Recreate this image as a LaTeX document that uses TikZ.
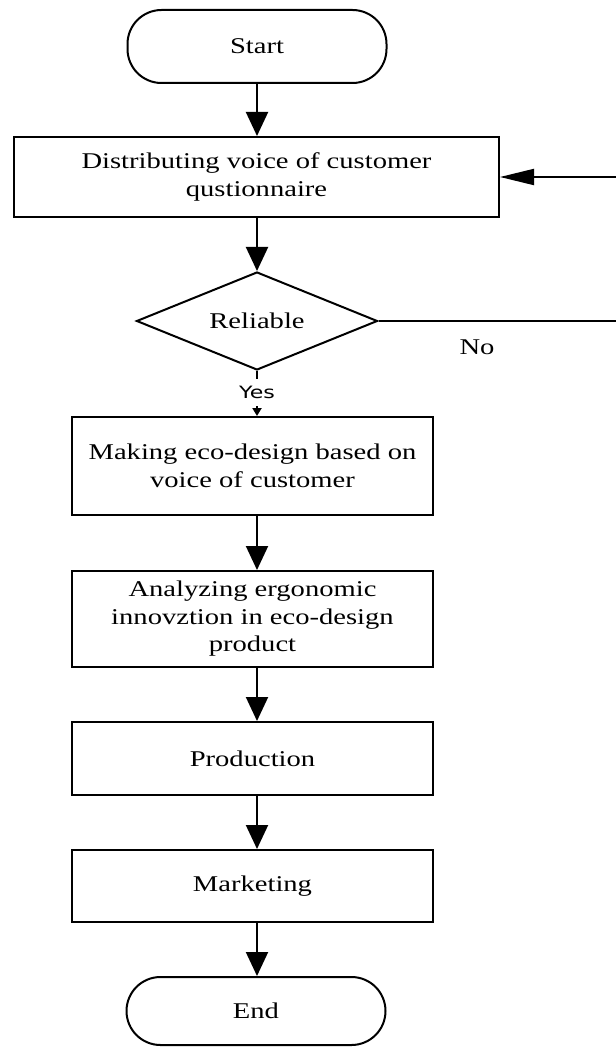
\documentclass[tikz,border=0pt]{standalone}
\usepackage{fontspec}
\setmainfont{Liberation Serif}[FakeStretch=1.27]
\newfontfamily\yesfont{DejaVu Sans}[FakeStretch=1.3]
\usetikzlibrary{shapes.geometric,arrows.meta}
\tikzset{
  base/.style={draw, line width=2pt, align=center, font=\fontsize{22.5}{27.5}\selectfont, inner sep=0pt},
  term/.style={base, rounded corners=34pt, minimum width=259pt},
  proc/.style={base, rectangle},
  decide/.style={base, diamond, aspect=2.46, minimum width=241pt, minimum height=98pt},
  conn/.style={line width=2pt, -{Triangle[length=24pt,width=22pt]}},
  back/.style={line width=2pt, -{Triangle[length=34pt,width=16pt]}},
  small/.style={line width=2pt, -{Triangle[length=8pt,width=9pt]}},
  plain/.style={line width=2pt},
  yeslbl/.style={fill=white, inner xsep=2pt, inner ysep=7.5pt, font=\yesfont\fontsize{17}{19}\selectfont},
  nolbl/.style={font=\fontsize{22.5}{26}\selectfont, inner sep=0pt}
}
\begin{document}
\begin{tikzpicture}[x=1pt,y=-1pt]
\useasboundingbox (0,0) rectangle (615,1048);
\coordinate (ax) at (257,0);
\node[term, minimum height=73pt] (start) at (257,46.5) {Start};
\node[proc, minimum width=485pt, minimum height=80pt] (b1) at (256.5,177) {Distributing voice of customer\\qustionnaire};
\node[decide] (dia) at (257,321) {Reliable};
\node[proc, minimum width=361pt, minimum height=98pt] (b2) at (252.5,466) {Making eco-design based on\\voice of customer};
\node[proc, minimum width=361pt, minimum height=96pt] (b3) at (252.5,619) {Analyzing ergonomic\\innovztion in eco-design\\product};
\node[proc, minimum width=361pt, minimum height=73pt] (b4) at (252.5,758.5) {Production};
\node[proc, minimum width=361pt, minimum height=72pt] (b5) at (252.5,886) {Marketing};
\node[term, minimum height=68pt] (end) at (256,1011) {End};
\node[nolbl] (no) at (477,347) {No};
\coordinate (noend) at (616,321);
\coordinate (fb) at (616,177);

\draw[conn] (start.south) -- (b1.north -| start.south);
\draw[conn] (b1.south -| ax) -- (dia.north);
\draw[small] (dia.south) -- node[yeslbl, pos=0.48] {Yes} (b2.north -| ax);
\draw[conn] (b2.south -| ax) -- (b3.north -| ax);
\draw[conn] (b3.south -| ax) -- (b4.north -| ax);
\draw[conn] (b4.south -| ax) -- (b5.north -| ax);
\draw[conn] (b5.south -| ax) -- (end.north -| ax);
\draw[plain] (dia.east) -- (noend);
\draw[back] (fb) -- (b1.east);
\end{tikzpicture}
\end{document}
